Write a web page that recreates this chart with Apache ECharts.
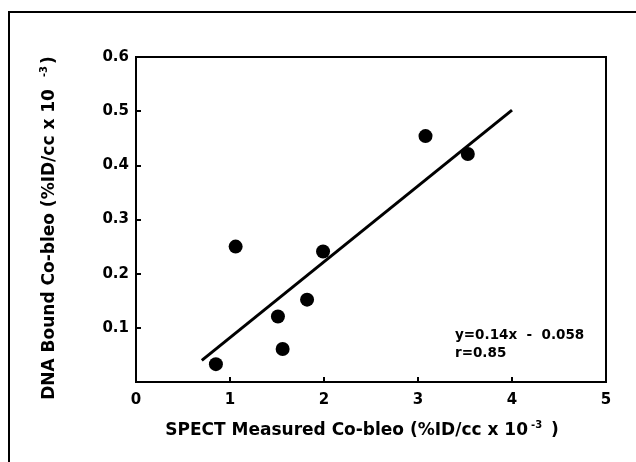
<!DOCTYPE html>
<html>
<head>
<meta charset="utf-8">
<script src="https://cdn.jsdelivr.net/npm/echarts@6/dist/echarts.min.js"></script>
<style>
  html, body { margin: 0; padding: 0; background: #fff; }
  #chart { width: 636px; height: 462px; }
</style>
</head>
<body>
<div id="chart"></div>
<script>
// measured points
const spectX = [0.85, 1.06, 1.51, 1.56, 1.82, 1.99, 3.08, 3.53]
const dnaY = [0.033, 0.25, 0.121, 0.061, 0.152, 0.241, 0.454, 0.421]

// regression y = slope * x + intercept, drawn across fitRange
const fitSlope = 0.14
const fitIntercept = -0.058
const fitRange = [0.7, 4]

const xTicks = [0, 1, 2, 3, 4, 5]
const yTicks = [0, 0.1, 0.2, 0.3, 0.4, 0.5, 0.6]

const FONT = '"DejaVu Sans", sans-serif'

const chart = echarts.init(document.getElementById('chart'))

const points = spectX.map((x, i) => [x, dnaY[i]])
const fitLine = fitRange.map((x) => [x, fitSlope * x + fitIntercept])

const option = {
	backgroundColor: '#fff',
	animation: false,
	grid: {
		left: 136,
		top: 57,
		right: 30,
		bottom: 80,
		show: true,
		borderColor: '#000',
		borderWidth: 2,
	},
	xAxis: {
		type: 'value',
		min: xTicks[0],
		max: xTicks[xTicks.length - 1],
		interval: 1,
		axisLine: { lineStyle: { color: '#000', width: 2 } },
		axisTick: { inside: true, length: 5, lineStyle: { color: '#000', width: 2 } },
		axisLabel: { color: '#000', fontFamily: FONT, fontWeight: 'bold', fontSize: 15, margin: 11 },
		splitLine: { show: false },
	},
	yAxis: {
		type: 'value',
		min: yTicks[0],
		max: yTicks[yTicks.length - 1],
		interval: 0.1,
		axisLine: { lineStyle: { color: '#000', width: 2 } },
		axisTick: { inside: true, length: 5, lineStyle: { color: '#000', width: 2 } },
		axisLabel: {
			color: '#000',
			fontFamily: FONT,
			fontWeight: 'bold',
			fontSize: 15,
			margin: 7,
			showMinLabel: false,
			formatter: (v) => (v === 0 ? '' : v.toFixed(1)),
		},
		splitLine: { show: false },
	},
	series: [
		{
			type: 'line',
			data: fitLine,
			symbol: 'none',
			lineStyle: { color: '#000', width: 3 },
			z: 2,
		},
		{
			type: 'scatter',
			data: points,
			symbol: 'circle',
			symbolSize: 14,
			itemStyle: { color: '#000', opacity: 1 },
			z: 3,
		},
	],
	graphic: [
		// outer frame, only left and top edges show in the scan
		{
			type: 'polyline',
			shape: { points: [[9, 462], [9, 12], [636, 12]] },
			style: { stroke: '#000', lineWidth: 2, fill: null },
		},
		{
			type: 'text',
			x: 362,
			y: 431,
			style: {
				text: '{b|SPECT Measured Co-bleo (%ID/cc x 10}{s|-3}{b| )}',
				align: 'center',
				verticalAlign: 'middle',
				rich: {
					b: { fontFamily: FONT, fontWeight: 'bold', fontSize: 17, fill: '#000' },
					s: { fontFamily: FONT, fontWeight: 'bold', fontSize: 10, fill: '#000', padding: [0, 3, 12, 3] },
				},
			},
		},
		{
			type: 'text',
			x: 50,
			y: 228,
			rotation: Math.PI / 2,
			style: {
				text: '{b|DNA Bound Co-bleo (%ID/cc x 10}{s|-3}{b|)}',
				align: 'center',
				verticalAlign: 'middle',
				rich: {
					b: { fontFamily: FONT, fontWeight: 'bold', fontSize: 17, fill: '#000' },
					s: { fontFamily: FONT, fontWeight: 'bold', fontSize: 10, fill: '#000', padding: [0, 2, 12, 12] },
				},
			},
		},
		{
			type: 'text',
			x: 455,
			y: 326,
			style: {
				text: 'y=0.14x  -  0.058\nr=0.85',
				fontFamily: FONT,
				fontWeight: 'bold',
				fontSize: 13.5,
				lineHeight: 18,
				fill: '#000',
			},
		},
	],
}

chart.setOption(option)
</script>
</body>
</html>
